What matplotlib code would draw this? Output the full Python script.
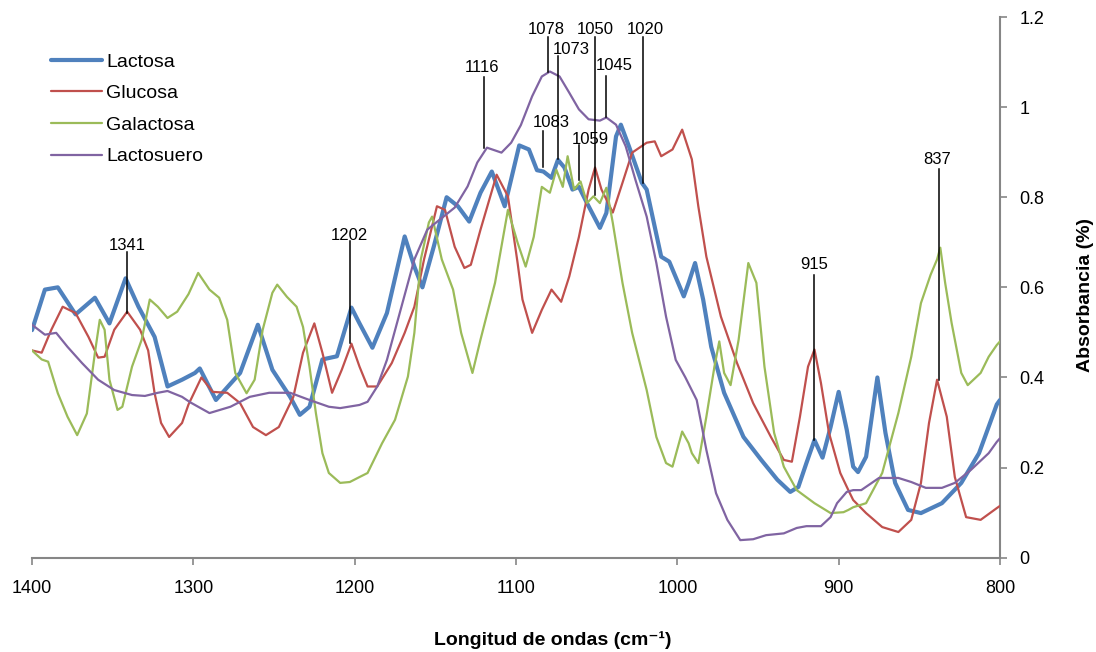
import matplotlib
matplotlib.use("Agg")
import matplotlib.pyplot as plt

plt.rcParams['font.family'] = ['Liberation Sans', 'DejaVu Sans']

# wavenumber (cm-1) / absorbance pairs
lactosa_wn = [1400, 1392, 1384, 1373, 1361, 1352, 1342, 1334, 1324, 1316, 1307, 1299, 1296,
              1286, 1271, 1260, 1251, 1240, 1234, 1228, 1220, 1211, 1202, 1197, 1189, 1180,
              1169, 1163, 1158, 1151, 1143, 1136, 1129, 1122, 1115, 1107, 1098, 1092, 1087,
              1083, 1078, 1074, 1070, 1065, 1061, 1056, 1048, 1044, 1038, 1035, 1030, 1022,
              1019, 1010, 1005, 996, 993, 989, 984, 979, 971, 959, 948, 938, 930, 925, 920,
              915, 910, 905, 900, 895, 891, 888, 883, 876, 871, 865, 857, 849, 836, 824,
              813, 802, 800]
lactosa = [0.505, 0.595, 0.60, 0.54, 0.577, 0.52, 0.62, 0.557, 0.49, 0.38, 0.395, 0.41, 0.42,
           0.35, 0.41, 0.517, 0.417, 0.357, 0.317, 0.335, 0.44, 0.447, 0.555, 0.52, 0.466, 0.543,
           0.713, 0.646, 0.60, 0.69, 0.80, 0.78, 0.746, 0.81, 0.857, 0.78, 0.915, 0.906, 0.86,
           0.857, 0.843, 0.883, 0.866, 0.817, 0.823, 0.787, 0.732, 0.765, 0.935, 0.961, 0.913, 0.832,
           0.817, 0.668, 0.657, 0.58, 0.61, 0.654, 0.573, 0.468, 0.366, 0.268, 0.217, 0.173, 0.146, 0.157, 0.21,
           0.261, 0.222, 0.29, 0.368, 0.284, 0.202, 0.19, 0.224, 0.40, 0.277, 0.166, 0.106, 0.099, 0.121, 0.166,
           0.232, 0.34, 0.35]

glucosa_wn = [1400, 1394, 1388, 1381, 1373, 1365, 1359, 1355, 1349, 1341, 1333, 1328, 1324,
              1320, 1315, 1307, 1303, 1295, 1288, 1279, 1271, 1263, 1255, 1247, 1238, 1232,
              1225, 1220, 1214, 1208, 1202, 1197, 1192, 1186, 1177, 1169, 1163, 1157, 1149,
              1144, 1138, 1132, 1128, 1122, 1112, 1105, 1099, 1096, 1090, 1084, 1078, 1072,
              1067, 1061, 1055, 1051, 1047, 1040, 1034, 1028, 1019, 1014, 1010, 1003, 997,
              993, 991, 987, 982, 973, 963, 953, 942, 934, 929, 924, 919, 915, 911, 906, 899,
              894, 891, 883, 873, 863, 855, 849, 844, 839, 833, 828, 821, 812, 802, 800]
glucosa = [0.46, 0.455, 0.506, 0.557, 0.543, 0.49, 0.444, 0.446, 0.506, 0.546, 0.506, 0.46, 0.365,
           0.299, 0.268, 0.299, 0.34, 0.40, 0.368, 0.366, 0.343, 0.29, 0.272, 0.29, 0.357, 0.455,
           0.52, 0.455, 0.366, 0.417, 0.475, 0.424, 0.38, 0.38, 0.432, 0.499, 0.557, 0.662, 0.78,
           0.772, 0.69, 0.643, 0.65, 0.728, 0.85, 0.802, 0.654, 0.573, 0.499, 0.55, 0.595, 0.568,
           0.624, 0.712, 0.817, 0.866, 0.817, 0.766, 0.832, 0.899, 0.921, 0.924, 0.891, 0.906, 0.95,
           0.906, 0.884, 0.78, 0.668, 0.535, 0.432, 0.343, 0.268, 0.217, 0.213, 0.313, 0.424, 0.462, 0.388, 0.277, 0.188,
           0.15, 0.128, 0.099, 0.068, 0.057, 0.084, 0.166, 0.299, 0.395, 0.313, 0.179, 0.09, 0.084, 0.11, 0.115]

galactosa_wn = [1400, 1394, 1390, 1384, 1378, 1372, 1366, 1361, 1358, 1355, 1352, 1347, 1344,
                1338, 1332, 1327, 1322, 1316, 1310, 1303, 1297, 1290, 1284, 1279, 1274, 1267,
                1262, 1257, 1251, 1248, 1242, 1236, 1232, 1228, 1224, 1220, 1216, 1209, 1203,
                1197, 1192, 1183, 1175, 1167, 1163, 1159, 1154, 1152, 1146, 1139, 1134, 1127,
                1122, 1113, 1105, 1099, 1094, 1089, 1084, 1079, 1075, 1071, 1068, 1064, 1060,
                1056, 1052, 1048, 1044, 1040, 1034, 1028, 1019, 1013, 1007, 1003, 997, 993, 991,
                987, 982, 977, 974, 971, 967, 962, 956, 951, 946, 940, 934, 926, 915, 905, 897,
                894, 891, 883, 873, 863, 855, 849, 843, 839, 837, 834, 830, 824, 820, 812, 807, 802, 800]
galactosa = [0.46, 0.44, 0.435, 0.365, 0.313, 0.272, 0.32, 0.455, 0.528, 0.506, 0.395, 0.328, 0.335,
             0.424, 0.484, 0.573, 0.557, 0.532, 0.546, 0.585, 0.632, 0.595, 0.577, 0.528, 0.41, 0.365,
             0.395, 0.506, 0.588, 0.606, 0.579, 0.557, 0.512, 0.424, 0.32, 0.232, 0.188, 0.166, 0.168,
             0.179, 0.188, 0.254, 0.306, 0.402, 0.499, 0.662, 0.744, 0.757, 0.662, 0.595, 0.499, 0.41,
             0.484, 0.61, 0.772, 0.699, 0.646, 0.712, 0.823, 0.81, 0.861, 0.823, 0.891, 0.817, 0.835,
             0.787, 0.802, 0.787, 0.821, 0.743, 0.61, 0.499, 0.372, 0.268, 0.21, 0.202, 0.28, 0.254, 0.232,
             0.21, 0.313, 0.424, 0.48, 0.41, 0.383, 0.484, 0.654, 0.61, 0.424, 0.277, 0.202, 0.15, 0.121, 0.099, 0.101,
             0.106, 0.112, 0.121, 0.188, 0.321, 0.446, 0.565, 0.628, 0.662, 0.688, 0.61, 0.521, 0.41, 0.383, 0.41, 0.446, 0.472, 0.48]

suero_wn = [1400, 1392, 1385, 1378, 1369, 1359, 1349, 1338, 1330, 1322, 1316, 1307, 1302,
            1297, 1290, 1277, 1265, 1253, 1240, 1228, 1216, 1209, 1197, 1192, 1186, 1180,
            1171, 1163, 1155, 1146, 1138, 1130, 1124, 1118, 1109, 1103, 1097, 1090, 1084,
            1079, 1073, 1067, 1061, 1055, 1048, 1044, 1038, 1032, 1026, 1019, 1013, 1007,
            1001, 995, 988, 982, 976, 969, 961, 953, 945, 934, 926, 920, 911, 905, 901, 895,
            891, 886, 875, 863, 855, 846, 836, 828, 818, 807, 802, 800]
suero = [0.517, 0.495, 0.499, 0.468, 0.432, 0.395, 0.372, 0.361, 0.359, 0.366, 0.37, 0.357, 0.345,
         0.335, 0.321, 0.335, 0.357, 0.366, 0.366, 0.35, 0.335, 0.332, 0.339, 0.346, 0.38, 0.439,
         0.557, 0.662, 0.728, 0.754, 0.777, 0.824, 0.877, 0.91, 0.899, 0.921, 0.96, 1.024, 1.068,
         1.079, 1.068, 1.032, 0.995, 0.973, 0.97, 0.977, 0.961, 0.913, 0.839, 0.757, 0.654, 0.535,
         0.439, 0.40, 0.35, 0.239, 0.143, 0.084, 0.039, 0.041, 0.05, 0.054, 0.066, 0.07, 0.07, 0.09, 0.121, 0.146,
         0.15, 0.15, 0.177, 0.177, 0.168, 0.155, 0.155, 0.166, 0.195, 0.232, 0.257, 0.265]

# peak labels: label, line x, text x, label height, line top, line bottom
peak_labels = ['1341', '1202', '1116', '1078', '1073', '1083', '1059', '1050', '1045', '1020', '915', '837']
peak_line_x = [1341, 1203, 1120, 1080, 1074, 1083, 1061, 1051, 1044, 1021, 915, 838]
peak_text_x = [1341, 1203, 1121, 1081, 1066, 1078, 1054, 1051, 1039, 1020, 915, 839]
peak_text_y = [0.693, 0.715, 1.088, 1.173, 1.128, 0.966, 0.928, 1.173, 1.093, 1.173, 0.650, 0.884]
peak_top = [0.679, 0.702, 1.066, 1.155, 1.113, 0.946, 0.915, 1.155, 1.070, 1.155, 0.628, 0.862]
peak_bottom = [0.543, 0.477, 0.910, 1.079, 0.884, 0.866, 0.839, 0.806, 0.977, 0.832, 0.262, 0.395]

fig = plt.figure(figsize=(10.96, 6.52), dpi=100)
ax = fig.add_axes([32 / 1096, 1 - 557.7 / 652, 968 / 1096, 540.7 / 652])

style = dict(solid_joinstyle='round', solid_capstyle='round', zorder=3)
ax.plot(lactosa_wn, lactosa, color='#4F81BD', lw=3.0, label='Lactosa', **style)
ax.plot(glucosa_wn, glucosa, color='#C0504D', lw=1.6, label='Glucosa', **style)
ax.plot(galactosa_wn, galactosa, color='#9BBB59', lw=1.6, label='Galactosa', **style)
ax.plot(suero_wn, suero, color='#8064A2', lw=1.6, label='Lactosuero', **style)

for lab, lx, tx, ty, top, bot in zip(peak_labels, peak_line_x, peak_text_x, peak_text_y, peak_top, peak_bottom):
    ax.plot([lx, lx], [bot, top], color='black', lw=1.1, zorder=4)
    ax.text(tx, ty, lab, ha='center', va='center', fontsize=12, zorder=5)

ax.set_xlim(1400, 800)
ax.set_ylim(0, 1.2)
ax.set_xticks([1400, 1300, 1200, 1100, 1000, 900, 800])
ax.set_xticklabels(['1400', '1300', '1200', '1100', '1000', '900', '800'], fontsize=13)
ax.yaxis.tick_right()
ax.set_yticks([0, 0.2, 0.4, 0.6, 0.8, 1.0, 1.2])
ax.set_yticklabels(['0', '0.2', '0.4', '0.6', '0.8', '1', '1.2'], fontsize=13)
ax.tick_params(axis='both', direction='out', length=5, color='#868686', width=1.2)
ax.tick_params(axis='x', pad=11)
ax.tick_params(axis='y', pad=9)

for side in ['left', 'top']:
    ax.spines[side].set_visible(False)
for side in ['right', 'bottom']:
    ax.spines[side].set_color('#868686')
    ax.spines[side].set_linewidth(1.5)

ax.legend(loc='upper left', bbox_to_anchor=(51 / 1096, 1 - 53 / 652), bbox_transform=fig.transFigure,
          frameon=False, fontsize=14, handlelength=2.6, handletextpad=0.25, labelspacing=0.72,
          borderpad=0, borderaxespad=0)

fig.text(553 / 1096, 1 - 640 / 652, 'Longitud de ondas (cm⁻¹)', ha='center', va='center',
         fontsize=14, fontweight='bold')
fig.text(1086 / 1096, 1 - 295 / 652, 'Absorbancia (%)', ha='center', va='center', rotation=90,
         fontsize=14, fontweight='bold')

fig.savefig('out.png', dpi=100)
